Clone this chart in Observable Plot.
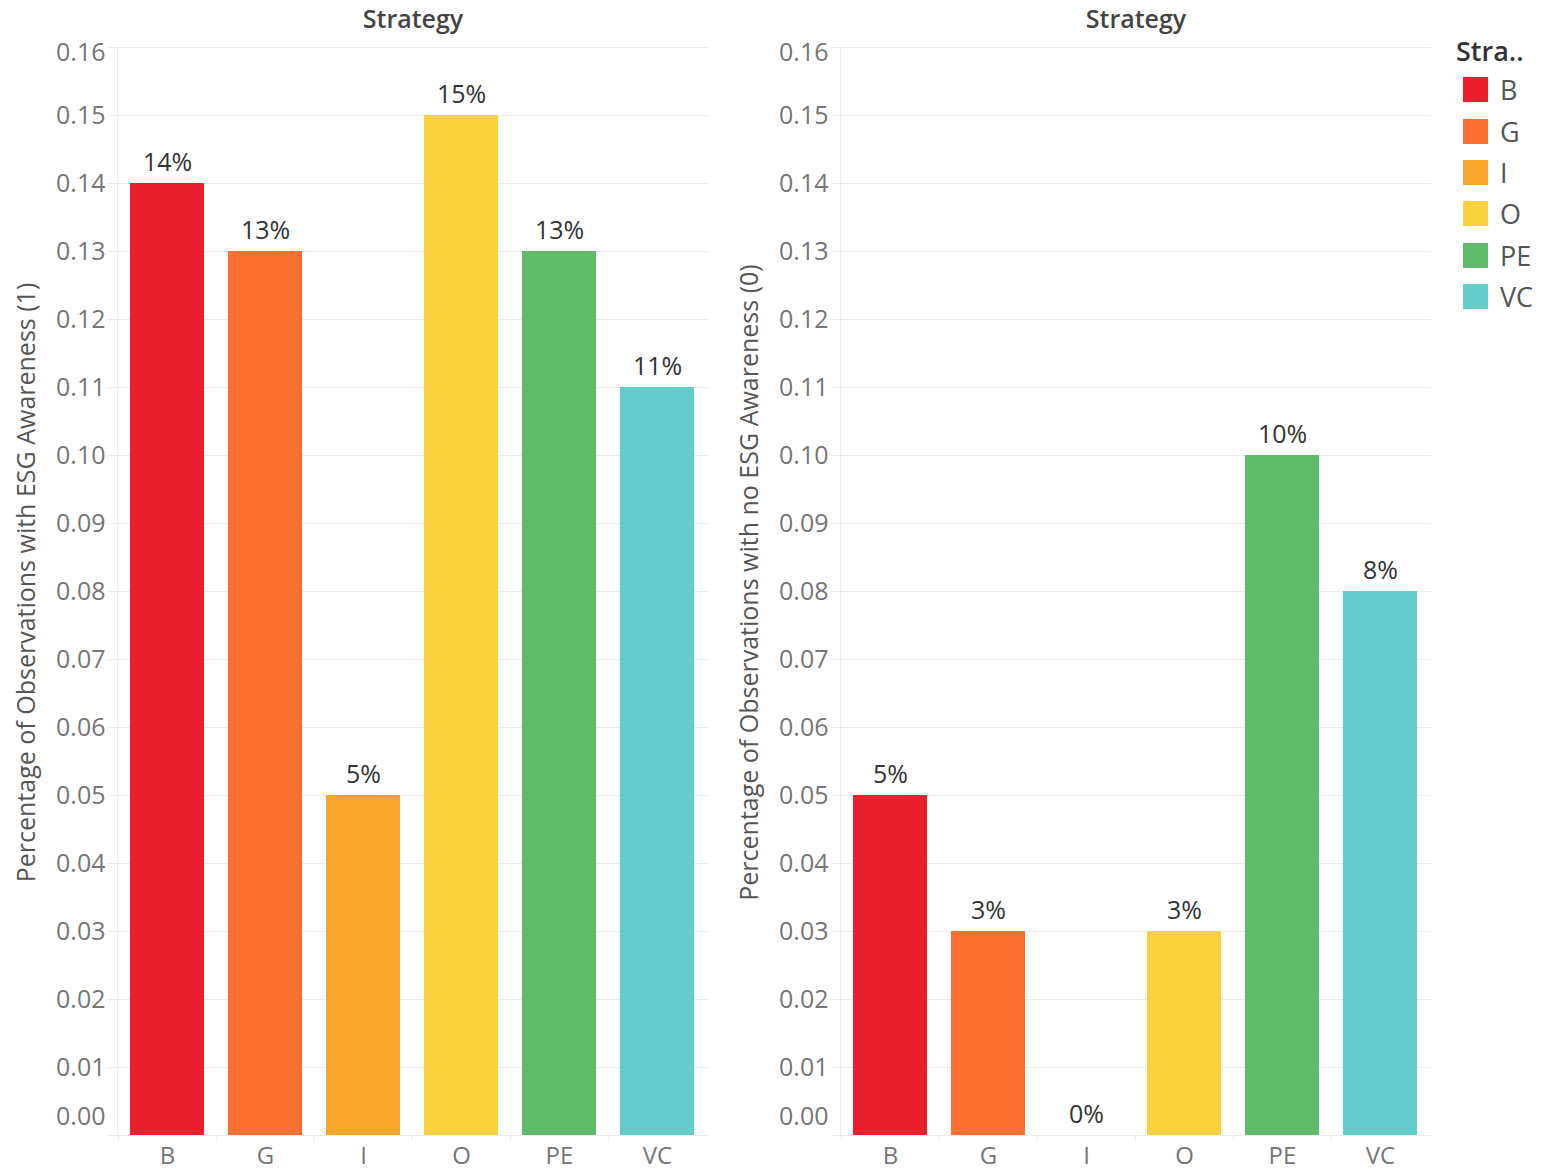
<!DOCTYPE html>
<html>
<head>
<meta charset="utf-8">
<script src="https://cdn.jsdelivr.net/npm/d3@7"></script>
<script src="https://cdn.jsdelivr.net/npm/@observablehq/plot@0.6"></script>
<style>
  body { margin: 0; background: #fff; }
  #wrap { position: relative; width: 1557px; height: 1170px; font-family: "Open Sans", sans-serif; overflow: hidden; }
  #left { position: absolute; left: 0; top: 0; }
  #right { position: absolute; left: 720px; top: 0; }
  #legend { position: absolute; left: 1456px; top: 33px; width: 100px; }
  #legend .ttl { font-size: 27px; line-height: 36px; font-weight: 600; color: #333; }
  .stratlg-swatch { height: 41.4px; padding-bottom: 0; padding-left: 7px; }
  .stratlg-swatch > svg { margin-right: 12px; }
</style>
</head>
<body>
<div id="wrap">
  <div id="left"></div>
  <div id="right"></div>
  <div id="legend"><div class="ttl">Stra..</div></div>
</div>
<script>
const strategies = ["B", "G", "I", "O", "PE", "VC"];
const awarenessYes = [0.14, 0.13, 0.05, 0.15, 0.13, 0.11];
const awarenessNo = [0.05, 0.03, 0.00, 0.03, 0.10, 0.08];
const colors = ["#ea1f2d", "#fd6e31", "#f8a62b", "#f9d13c", "#5fbb69", "#64cdcb"];
const yTicks = [0, 0.01, 0.02, 0.03, 0.04, 0.05, 0.06, 0.07, 0.08, 0.09, 0.10, 0.11, 0.12, 0.13, 0.14, 0.15, 0.16];
const panelTitle = "Strategy";
const yLabelLeft = "Percentage of Observations with ESG Awareness (1)";
const yLabelRight = "Percentage of Observations with no ESG Awareness (0)";

const fmt = d3.format(".2f");
const gridColor = "#ececec";
const tickText = "#767676";

function panel(values, ylabel, marginLeft, width) {
  const data = strategies.map((s, i) => ({strategy: s, value: values[i]}));
  const plotW = width - marginLeft - 7;
  const step = plotW / strategies.length;
  return Plot.plot({
    width, height: 1170,
    marginLeft, marginRight: 7, marginTop: 47, marginBottom: 35,
    style: {fontFamily: "Open Sans", background: "transparent", overflow: "visible"},
    x: {domain: strategies, paddingInner: 0.24, paddingOuter: 0.12, axis: null, label: null},
    y: {domain: [0, 0.16], axis: null, label: null},
    color: {domain: strategies, range: colors},
    marks: [
      Plot.gridY(yTicks, {stroke: gridColor, strokeOpacity: 1}),
      Plot.frame({anchor: "left", stroke: gridColor}),
      Plot.axisY(yTicks, {tickSize: 9, tickPadding: 3, stroke: gridColor, fill: tickText, fontSize: 25, label: null,
        tickFormat: d => (d === 0 || d === 0.16) ? "" : fmt(d)}),
      Plot.axisY([0], {tickSize: 0, tickPadding: 12, dy: -19, fill: tickText, fontSize: 25, label: null, tickFormat: fmt}),
      Plot.axisY([0.16], {tickSize: 0, tickPadding: 12, dy: 5, fill: tickText, fontSize: 25, label: null, tickFormat: fmt}),
      Plot.axisX({tickSize: 7, dx: -step / 2, stroke: gridColor, tickFormat: () => "", label: null}),
      Plot.axisX({tickSize: 0, tickPadding: 11, fill: tickText, fontSize: 24, label: null}),
      Plot.barY(data, {x: "strategy", y: "value", fill: "strategy"}),
      Plot.text(data, {x: "strategy", y: "value", text: d => `${Math.round(d.value * 100)}%`,
        dy: -13, lineAnchor: "bottom", fontSize: 25, fill: "#333"}),
      Plot.text([panelTitle], {text: d => d, frameAnchor: "top", dy: -20, lineAnchor: "bottom",
        fontSize: 25, fontWeight: 600, fill: "#444"}),
      Plot.text([ylabel], {text: d => d, frameAnchor: "left", rotate: -90, dx: -100, dy: -9,
        lineAnchor: "top", textAnchor: "middle", fontSize: 25, fill: "#555"})
    ]
  });
}

document.getElementById("left").append(panel(awarenessYes, yLabelLeft, 117, 715));
document.getElementById("right").append(panel(awarenessNo, yLabelRight, 120, 718));

const lg = Plot.legend({
  color: {type: "ordinal", domain: strategies, range: colors},
  legend: "swatches", columns: 1, swatchSize: 25, className: "stratlg",
  style: {fontSize: "27px", fontFamily: "Open Sans", color: "#555", margin: "0"}
});
document.getElementById("legend").append(lg);
</script>
</body>
</html>
